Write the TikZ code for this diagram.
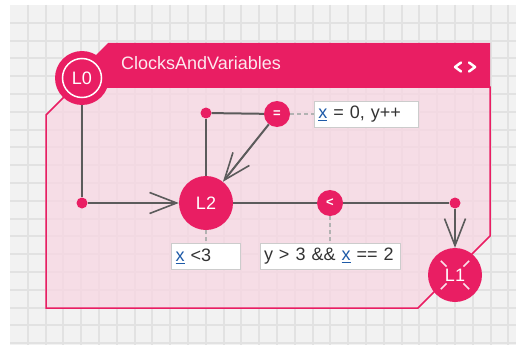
\documentclass[tikz,border=0pt]{standalone}
\usepackage{fontspec}
\setmainfont{Liberation Sans}
\usepackage{xcolor}
\usepackage{tikz}
\usetikzlibrary{arrows.meta, positioning}
\definecolor{nodepink}{HTML}{E91E63}
\definecolor{bodypink}{HTML}{F8D6E2}
\definecolor{edgegray}{HTML}{5B5B5B}
\definecolor{gridgray}{HTML}{E2E2E2}
\definecolor{bggray}{HTML}{F2F2F2}
\definecolor{varblue}{HTML}{1E5AA8}
\newcommand{\vx}{\textcolor{varblue}{\underline{x}}}

\begin{document}
\begin{tikzpicture}[
    x=1pt, y=-1pt,
    font=\fontsize{18}{20}\selectfont,
    loc/.style={circle, fill=nodepink, text=white, minimum size=54pt, inner sep=0pt},
    jn/.style={circle, fill=nodepink, minimum size=11pt, inner sep=0pt},
    sync/.style={circle, fill=nodepink, text=white, minimum size=26pt, inner sep=0pt, font=\fontsize{13}{13}\selectfont\bfseries},
    guard/.style={draw=black!20, fill=white, text=black!80, minimum height=26pt, inner xsep=4pt, inner ysep=0pt, align=left},
    edge/.style={draw=edgegray, line width=2pt},
    arr/.style={edge, -{Straight Barb[length=27pt, width=21pt, line width=1.6pt]}},
    hint/.style={draw=black!30, line width=1.5pt, dash pattern=on 4pt off 3pt}
  ]
    \useasboundingbox (0,0) rectangle (516,345);
    \fill[white] (0,0) rectangle (516,345);
    \fill[bggray] (10,5) rectangle (516,345);
    \foreach \i in {1,...,28}
      \draw[gridgray, line width=2pt] ({10+17.8*\i},5) -- ({10+17.8*\i},345);
    \foreach \j in {1,...,19}
      \draw[gridgray, line width=2pt] (10,{5+17.8*\j}) -- (516,{5+17.8*\j});

    % template body and header
    \path[fill=bodypink, fill opacity=0.75, draw=nodepink, line width=1.5pt]
      (74,87) -- (490,87) -- (490,236) -- (418,308) -- (46,308) -- (46,115) -- cycle;
    \fill[nodepink] (108,43) -- (490,43) -- (490,87) -- (64,87) -- cycle;
    \node[anchor=base west, text=white!90!nodepink, inner sep=0pt] (title) at (121,70) {ClocksAndVariables};
    \draw[white, line width=2.5pt, line cap=round, line join=round]
      (461,62.5) -- (455,67) -- (461,71.5)
      (469,62.5) -- (475,67) -- (469,71.5);

    \node[loc] (l0) at (82,78) {L0};
    \draw[white, line width=1.5pt] (l0.center) circle[radius=19.5pt];
    \node[loc] (l2) at (206,203) {L2};
    \node[loc] (l1) at (455,275) {L1};
    \foreach \a in {45,135,225,315}
      \draw[white!85!nodepink, line width=1.5pt] ([shift={(\a:12pt)}]l1.center) -- ([shift={(\a:20pt)}]l1.center);

    \node[jn] (j0) at (82,203) {};
    \node[jn] (jt) at (206,113) {};
    \node[jn] (jr) at (455,203) {};
    \node[sync] (eq) at (277,114) {=};
    \node[sync] (lt) at (330,203) {<};

    \node[guard, text width=96pt, right=24pt of eq] (upd) {\vx{} = 0, y++};
    \node[guard, text width=61pt, below=13pt of l2] (g2) {\vx{} <3};
    \node[guard, text width=132pt, below=27pt of lt] (g3) {y > 3 \&\& \vx{} == 2};

    \draw[edge] (l0) -- (j0);
    \draw[arr] (j0) -- (l2);
    \draw[edge] (l2) -- (jt);
    \draw[edge] (jt) -- (eq);
    \draw[arr] (eq) -- (l2);
    \draw[edge] (l2) -- (lt);
    \draw[edge] (lt) -- (jr);
    \draw[arr] (jr) -- (l1);
    \draw[hint] (eq) -- (upd);
    \draw[hint] (l2) -- (g2);
    \draw[hint] (lt) -- (g3);
  \end{tikzpicture}
\end{document}
